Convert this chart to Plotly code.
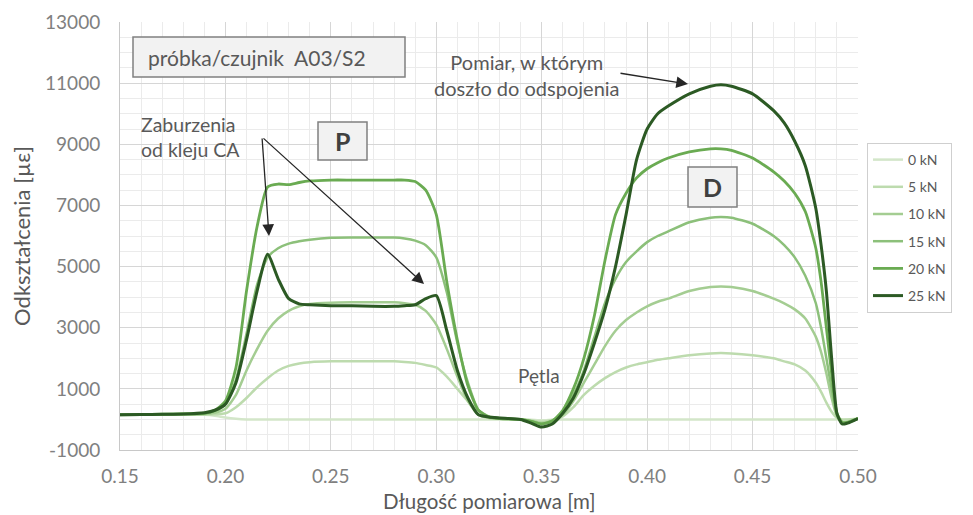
import plotly.graph_objects as go

# ---------------- data ----------------
x_m = [0.15, 0.16, 0.17, 0.18, 0.19, 0.195, 0.20, 0.205, 0.21, 0.215,
       0.22, 0.225, 0.23, 0.235, 0.24, 0.25, 0.26, 0.27, 0.28, 0.285,
       0.29, 0.295, 0.30, 0.305, 0.31, 0.315, 0.32, 0.325, 0.33, 0.34,
       0.345, 0.35, 0.355, 0.36, 0.365, 0.37, 0.375, 0.38, 0.385, 0.39,
       0.395, 0.40, 0.405, 0.41, 0.42, 0.43, 0.435, 0.44, 0.45, 0.46,
       0.465, 0.47, 0.475, 0.48, 0.4825, 0.485, 0.4875, 0.49, 0.4925, 0.495,
       0.50]

load_0kN = [150, 150, 150, 150, 150, 120, 60, 20, 0, 0,
            0, 0, 0, 0, 0, 0, 0, 0, 0, 0,
            0, 0, 0, 0, 0, 0, 0, 0, 0, 0,
            -10, -30, -10, 0, 0, 0, 0, 0, 0, 0,
            0, 0, 0, 0, 0, 0, 0, 0, 0, 0,
            0, 0, 0, 0, 0, 0, 0, 0, -20, -10,
            10]

load_5kN = [150, 150, 150, 160, 160, 170, 200, 400, 700, 1050,
            1350, 1600, 1750, 1830, 1870, 1900, 1900, 1900, 1900, 1880,
            1850, 1780, 1700, 1400, 1000, 600, 300, 100, 50, 0,
            -30, -80, -20, 100, 400, 800, 1100, 1350, 1550, 1700,
            1800, 1870, 1950, 2000, 2100, 2160, 2170, 2160, 2100, 2000,
            1900, 1800, 1600, 1200, 900, 550, 250, 50, 0, 0,
            20]

load_10kN = [150, 150, 160, 170, 180, 220, 350, 800, 1600, 2300,
             2900, 3300, 3550, 3700, 3780, 3820, 3830, 3830, 3830, 3800,
             3750, 3550, 3100, 2300, 1400, 600, 150, 50, 20, 0,
             -50, -120, -40, 150, 600, 1200, 1800, 2400, 2900, 3250,
             3500, 3700, 3850, 3950, 4200, 4330, 4350, 4330, 4200, 3950,
             3800, 3600, 3300, 2700, 2200, 1500, 700, 100, -80, -80,
             30]

load_15kN = [150, 160, 170, 180, 200, 280, 500, 1300, 2800, 4400,
             5300, 5600, 5750, 5830, 5880, 5940, 5950, 5950, 5950, 5920,
             5850, 5700, 5300, 4150, 2500, 1200, 300, 80, 30, 0,
             -60, -150, -50, 250, 800, 1600, 2700, 3800, 4600, 5150,
             5500, 5800, 6000, 6150, 6450, 6600, 6620, 6600, 6400, 6000,
             5700, 5300, 4700, 3800, 3000, 2000, 1000, 150, -100, -100,
             30]

load_20kN = [150, 160, 170, 180, 200, 300, 600, 1700, 4200, 6300,
             7600, 7700, 7680, 7750, 7800, 7830, 7830, 7830, 7830, 7830,
             7780, 7500, 6700, 4500, 2600, 1100, 300, 80, 30, 0,
             -60, -150, -50, 300, 1000, 2000, 3400, 5200, 6700, 7400,
             7900, 8200, 8400, 8550, 8750, 8850, 8850, 8800, 8550, 8100,
             7800, 7400, 6800, 5600, 4500, 3000, 1500, 200, -100, -100,
             30]

load_25kN = [150, 160, 170, 180, 220, 300, 500, 1200, 2600, 4200,
             5400, 4600, 3950, 3780, 3750, 3720, 3720, 3700, 3700, 3720,
             3750, 3950, 4050, 2900, 1600, 700, 150, 80, 50, 0,
             -120, -250, -150, 200, 700, 1500, 2500, 3600, 5000, 6700,
             8500, 9500, 10000, 10250, 10650, 10900, 10950, 10900, 10650, 10100,
             9700, 9100, 8300, 6900, 5700, 4200, 2000, 200, -150, -120,
             30]

series_names = ["0 kN", "5 kN", "10 kN", "15 kN", "20 kN", "25 kN"]
series_values = [load_0kN, load_5kN, load_10kN, load_15kN, load_20kN, load_25kN]

x_ticks = [0.15, 0.20, 0.25, 0.30, 0.35, 0.40, 0.45, 0.50]
x_tick_labels = ["0.15", "0.20", "0.25", "0.30", "0.35", "0.40", "0.45", "0.50"]
y_ticks = [-1000, 1000, 3000, 5000, 7000, 9000, 11000, 13000]
y_tick_labels = ["-1000", "1000", "3000", "5000", "7000", "9000", "11000", "13000"]

# ---------------- styles ----------------
colors = ["#d3e6c9", "#bddbae", "#a4cd92", "#8cc07a", "#6aab52", "#2c5a24"]
widths = [2.5, 2.5, 2.5, 2.5, 2.8, 3.0]
FONT = "Lato"

# the page body has an 8px margin: figure is sized so it fills the window
OFF = 8
W, H = 973 - OFF, 515 - OFF
# plot area in screenshot pixels
L, R, T, B = 120, 858, 22, 450
XMIN, XMAX, YMIN, YMAX = 0.15, 0.50, -1000, 13000


def px(xp):
    return XMIN + (xp - L) / (R - L) * (XMAX - XMIN)


def py(yp):
    return YMIN + (B - yp) / (B - T) * (YMAX - YMIN)


fig = go.Figure()
for i, (name, vals) in enumerate(zip(series_names, series_values)):
    fig.add_trace(go.Scatter(
        x=x_m, y=vals, name=name, mode="lines",
        line=dict(color=colors[i], width=widths[i], shape="spline", smoothing=0.6),
        legendgroup=name,
    ))

grid_major = "#d6d6d6"
grid_minor = "#ebebeb"

fig.update_layout(
    width=W, height=H,
    margin=dict(l=L - OFF, r=W - (R - OFF), t=T - OFF, b=H - (B - OFF), autoexpand=False),
    paper_bgcolor="white", plot_bgcolor="white",
    font=dict(family=FONT, color="#595959"),
    showlegend=True,
    legend=dict(
        x=(867 - L) / (R - L), xanchor="left",
        y=(B - 143) / (B - T), yanchor="top",
        bordercolor="#cfcfcf", borderwidth=1,
        font=dict(size=14, color="#595959", family=FONT),
        tracegroupgap=6,
        bgcolor="white",
    ),
)

fig.update_xaxes(
    range=[XMIN, XMAX], automargin=False,
    tickmode="array", tickvals=x_ticks, ticktext=x_tick_labels,
    tickfont=dict(size=19, color="#808080", family=FONT),
    ticks="", ticklabelstandoff=9,
    showgrid=True, gridcolor=grid_major, gridwidth=1,
    minor=dict(dtick=0.01, tick0=0.15, showgrid=True, gridcolor=grid_minor, gridwidth=1),
    showline=True, linecolor="#c8c8c8", linewidth=1,
    zeroline=False,
)
fig.update_yaxes(
    range=[YMIN, YMAX], automargin=False,
    tickmode="array", tickvals=y_ticks, ticktext=y_tick_labels,
    tickfont=dict(size=19, color="#808080", family=FONT),
    ticks="", ticklabelstandoff=15,
    showgrid=True, gridcolor=grid_major, gridwidth=1,
    minor=dict(dtick=500, tick0=-1000, showgrid=True, gridcolor=grid_minor, gridwidth=1),
    showline=True, linecolor="#c8c8c8", linewidth=1,
    zeroline=False,
    title=dict(text="Odkształcenia [µε]", font=dict(size=22, color="#595959", family=FONT), standoff=18),
)

# x-axis title placed exactly
fig.add_annotation(x=0.5, y=(B - 501) / (B - T), xref="paper", yref="paper",
                   xanchor="center", yanchor="middle", showarrow=False,
                   text="Długość pomiarowa [m]",
                   font=dict(size=20.5, color="#595959", family=FONT))

# boxes
box_style = dict(type="rect", xref="x", yref="y", fillcolor="#f2f2f2",
                 line=dict(color="#808080", width=1.5), layer="above")
fig.add_shape(x0=px(133), x1=px(405), y0=py(77), y1=py(37), **box_style)
fig.add_shape(x0=px(318), x1=px(367), y0=py(160), y1=py(122), **box_style)
fig.add_shape(x0=px(688), x1=px(737), y0=py(207), y1=py(167), **box_style)

# texts
fig.add_annotation(x=px(146), y=py(57), xref="x", yref="y", xanchor="left",
                   text="próbka/czujnik\u00a0\u00a0A03/S2", showarrow=False,
                   font=dict(size=21, color="#595959", family=FONT))
fig.add_annotation(x=px(342.5), y=py(141), xref="x", yref="y",
                   text="<b>P</b>", showarrow=False,
                   font=dict(size=25, color="#404040", family=FONT))
fig.add_annotation(x=px(712.5), y=py(187), xref="x", yref="y",
                   text="<b>D</b>", showarrow=False,
                   font=dict(size=25, color="#404040", family=FONT))
fig.add_annotation(x=px(139), y=py(137), xref="x", yref="y", xanchor="left",
                   text="Zaburzenia<br>od kleju CA", showarrow=False, align="left",
                   font=dict(size=19.5, color="#595959", family=FONT))
fig.add_annotation(x=px(527), y=py(75), xref="x", yref="y",
                   text="Pomiar, w którym<br>doszło do odspojenia", showarrow=False, align="center",
                   font=dict(size=20, color="#595959", family=FONT))
fig.add_annotation(x=px(539), y=py(375), xref="x", yref="y",
                   text="Pętla", showarrow=False,
                   font=dict(size=19, color="#595959", family=FONT))

# arrows
arrow_style = dict(xref="x", yref="y", axref="x", ayref="y", text="", showarrow=True,
                   arrowhead=2, arrowsize=1.8, arrowwidth=1.3, arrowcolor="#262626", standoff=0)
fig.add_annotation(x=px(269), y=py(236), ax=px(262), ay=py(137), **arrow_style)
fig.add_annotation(x=px(424), y=py(284), ax=px(262), ay=py(137), **arrow_style)
fig.add_annotation(x=px(688), y=py(84), ax=px(619), ay=py(73), **arrow_style)

fig.write_html("out.html")
